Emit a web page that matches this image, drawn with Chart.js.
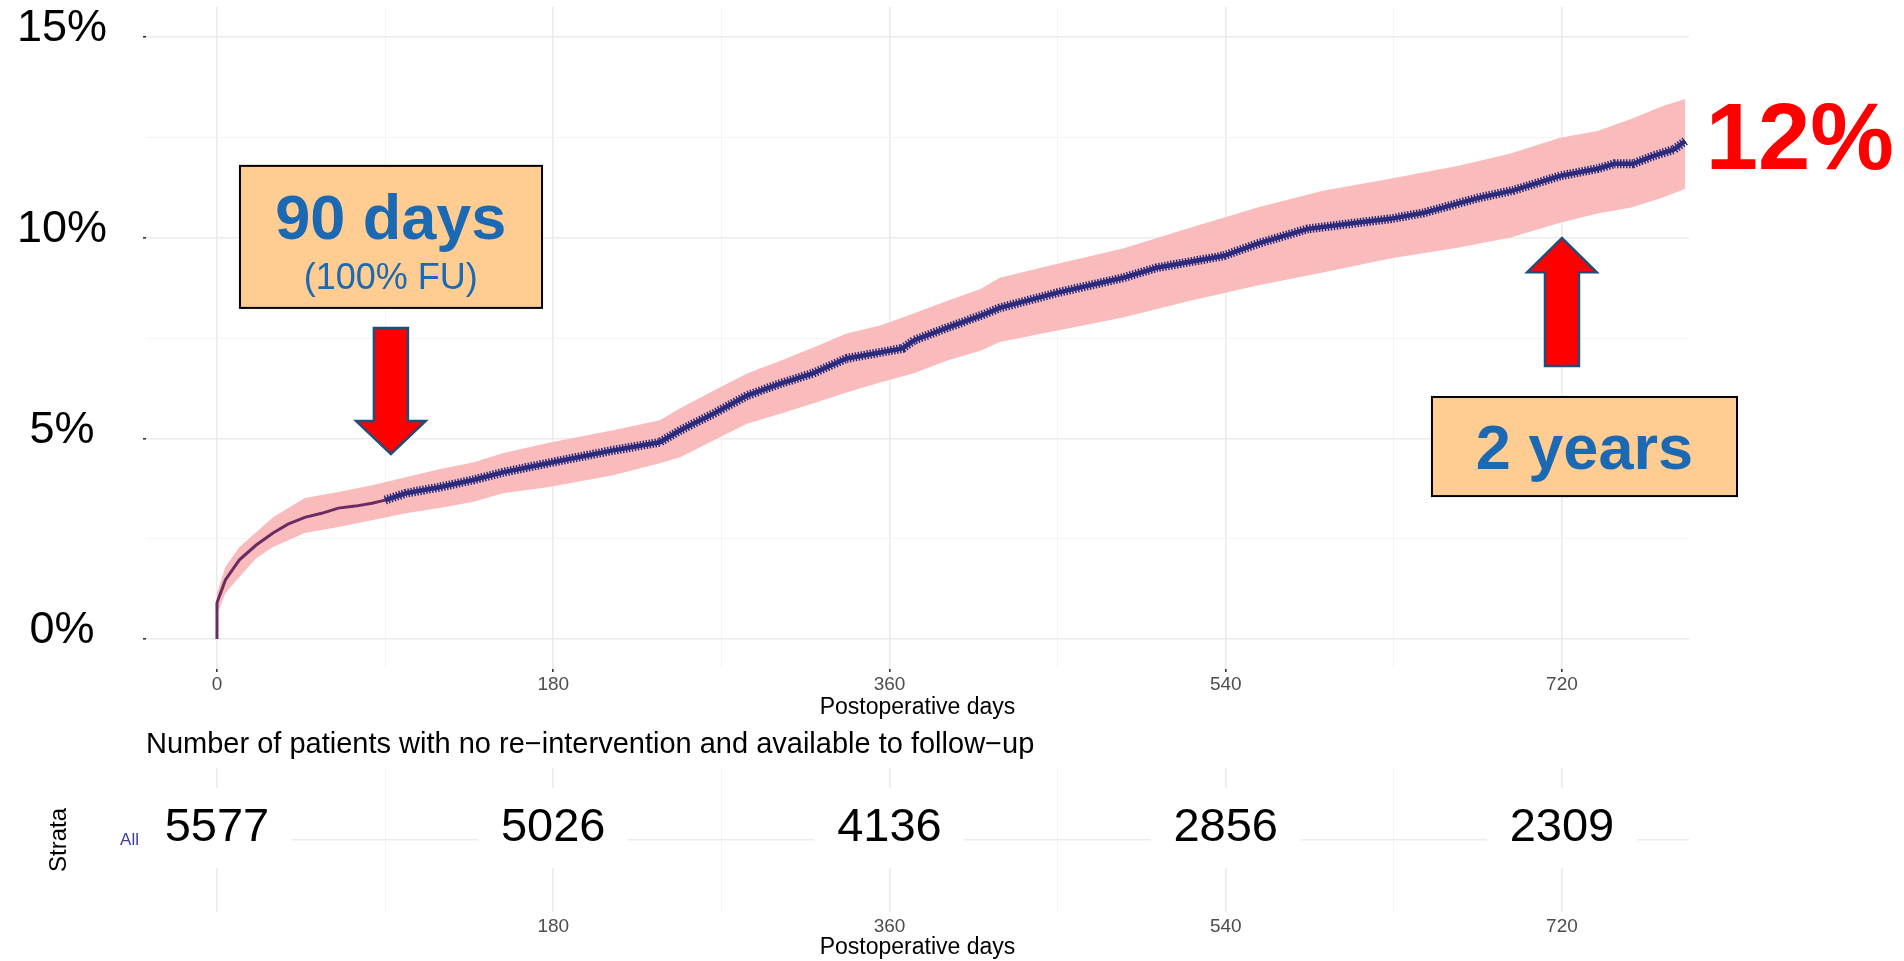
<!DOCTYPE html>
<html>
<head>
<meta charset="utf-8">
<script src="https://cdn.jsdelivr.net/npm/chart.js@4.4.0/dist/chart.umd.min.js"></script>
<style>
  body { margin: 0; background: #fff; }
  #wrap { position: relative; width: 1904px; height: 961px; overflow: hidden; background: #fff; }
  canvas { position: absolute; left: 0; }
  #curveChart { top: 0; }
  #riskChart { top: 725px; }
</style>
</head>
<body>
<div id="wrap">
  <canvas id="curveChart" width="1904" height="725"></canvas>
  <canvas id="riskChart" width="1904" height="236"></canvas>
</div>
<script>
const FONT = "'Liberation Sans', Arial, Helvetica, sans-serif";
Chart.defaults.font.family = FONT;

// cumulative re-intervention (%)
const estimateDays = [0, 0, 4.5, 12, 21, 30, 38, 47, 56, 65, 74, 83, 90, 101, 119, 137, 153, 177, 212, 237,
  248, 266, 284, 302, 319, 337, 355, 367, 373, 391, 409, 419, 450, 485, 503, 521, 539, 557, 584, 610,
  628, 646, 664, 676, 694, 719, 739, 748, 758, 769, 780, 786];
const estimatePct = [0, 0.9, 1.47, 1.97, 2.34, 2.64, 2.86, 3.03, 3.13, 3.26, 3.31, 3.38, 3.46, 3.63, 3.78, 3.96, 4.15, 4.38, 4.70, 4.90,
  5.20, 5.62, 6.07, 6.37, 6.62, 6.99, 7.14, 7.24, 7.44, 7.76, 8.06, 8.25, 8.63, 9.0, 9.25, 9.4, 9.55, 9.85, 10.22, 10.37,
  10.47, 10.62, 10.85, 11.0, 11.18, 11.54, 11.72, 11.84, 11.84, 12.04, 12.2, 12.41];

// confidence band
const bandDays = [0, 4.5, 12, 21, 30, 47, 65, 83, 101, 119, 137, 153, 177, 212, 237, 248, 266, 284, 302, 319,
  337, 355, 373, 391, 409, 419, 450, 485, 521, 557, 592, 628, 664, 692, 719, 739, 757, 774, 786];
const bandLower = [0.6, 1.14, 1.54, 2.01, 2.29, 2.64, 2.79, 2.96, 3.13, 3.26, 3.41, 3.63, 3.78, 4.08, 4.38, 4.53, 4.95, 5.37, 5.62, 5.87,
  6.14, 6.39, 6.62, 6.94, 7.19, 7.40, 7.69, 8.01, 8.43, 8.81, 9.13, 9.48, 9.75, 10.0, 10.37, 10.6, 10.75, 11.0, 11.22];
const bandUpper = [1.15, 1.79, 2.29, 2.66, 3.03, 3.51, 3.66, 3.83, 4.03, 4.23, 4.40, 4.63, 4.88, 5.20, 5.45, 5.75, 6.19, 6.62, 6.94, 7.26,
  7.61, 7.81, 8.11, 8.43, 8.73, 9.0, 9.35, 9.73, 10.25, 10.75, 11.17, 11.47, 11.79, 12.09, 12.49, 12.66, 12.96, 13.28, 13.46];

const xTicks = [0, 90, 180, 270, 360, 450, 540, 630, 720];
const yTicks = [0, 2.5, 5, 7.5, 10, 12.5, 15];

// number at risk table
const riskDays = [0, 180, 360, 540, 720];
const riskCounts = [5577, 5026, 4136, 2856, 2309];
const strataLabels = ["All"];

const X_MIN = -38, X_MAX = 788;
const CENSOR_FROM = 90;

const NAVY = "#2B2C7E";
const PURPLE = "#6B2C62";
const BAND = "#F9BBBC";
const GRID_MAJOR = "#EBEBEB";
const GRID_MINOR = "#F3F3F3";
const NOTE_BLUE = "#1C69B3";

const toPoints = (xs, ys) => xs.map((x, i) => ({ x, y: ys[i] }));
const isMajorX = (v) => v % 180 === 0;
const isMajorY = (v) => v % 5 === 0;

function gridFor(isMajor, ticks) {
  const major = (c) => c.tick && isMajor(c.tick.value);
  return {
    color: (c) => (major(c) ? GRID_MAJOR : GRID_MINOR),
    lineWidth: (c) => (major(c) ? 1.6 : 0.9),
    tickColor: (c) => (ticks && major(c) ? "#333333" : "rgba(0,0,0,0)"),
    tickLength: 3,
    drawTicks: ticks,
  };
}

// keep the plot area where the axes say, no room kept for overflowing labels
function fixSize(prop, size) {
  return (s) => {
    s[prop] = size;
    s.paddingTop = 0;
    s.paddingBottom = 0;
    s.paddingLeft = 0;
    s.paddingRight = 0;
  };
}

// callouts, in data units
const boxNotes = [
  {
    from: [12.3, 8.25], to: [174, 11.79],
    lines: [
      { text: "90 days", x: 93, y: 9.97, size: 63, bold: true },
      { text: "(100% FU)", x: 93, y: 8.72, size: 36, bold: false },
    ],
  },
  {
    from: [650.4, 3.56], to: [813.7, 6.03],
    lines: [{ text: "2 years", x: 732, y: 4.23, size: 63, bold: true }],
  },
];
const arrowNotes = [
  { x: 93.1, tail: 7.75, neck: 5.43, tip: 4.61 },
  { x: 720, tail: 6.8, neck: 9.14, tip: 9.99 },
];
const bigNote = { text: "12%", x: 797, y: 11.71, size: 94 };

const calloutPlugin = {
  id: "callouts",
  afterDraw(chart) {
    const { ctx, scales: { x, y } } = chart;
    const px = (v) => x.getPixelForValue(v);
    const py = (v) => y.getPixelForValue(v);
    ctx.save();

    for (const a of arrowNotes) {
      const cx = px(a.x);
      const sw = px(a.x + 9.1) - cx;
      const hw = px(a.x + 18.6) - cx;
      ctx.beginPath();
      ctx.moveTo(cx - sw, py(a.tail));
      ctx.lineTo(cx + sw, py(a.tail));
      ctx.lineTo(cx + sw, py(a.neck));
      ctx.lineTo(cx + hw, py(a.neck));
      ctx.lineTo(cx, py(a.tip));
      ctx.lineTo(cx - hw, py(a.neck));
      ctx.lineTo(cx - sw, py(a.neck));
      ctx.closePath();
      ctx.fillStyle = "#FF0000";
      ctx.fill();
      ctx.lineWidth = 2.5;
      ctx.strokeStyle = "#1F4E79";
      ctx.stroke();
    }

    for (const b of boxNotes) {
      const left = px(b.from[0]), right = px(b.to[0]);
      const top = py(b.to[1]), bottom = py(b.from[1]);
      ctx.fillStyle = "#FFCC92";
      ctx.fillRect(left, top, right - left, bottom - top);
      ctx.lineWidth = 2;
      ctx.strokeStyle = "#000";
      ctx.strokeRect(left, top, right - left, bottom - top);
      ctx.fillStyle = NOTE_BLUE;
      ctx.textAlign = "center";
      ctx.textBaseline = "alphabetic";
      for (const l of b.lines) {
        ctx.font = `${l.bold ? "bold " : ""}${l.size}px ${FONT}`;
        ctx.fillText(l.text, px(l.x), py(l.y));
      }
    }

    ctx.fillStyle = "#FF0000";
    ctx.font = `bold ${bigNote.size}px ${FONT}`;
    ctx.textAlign = "left";
    ctx.textBaseline = "alphabetic";
    ctx.fillText(bigNote.text, px(bigNote.x), py(bigNote.y));
    ctx.restore();
  },
};

const curveChart = new Chart(document.getElementById("curveChart"), {
  type: "line",
  data: {
    datasets: [
      {
        label: "upper",
        data: toPoints(bandDays, bandUpper),
        fill: "+1",
        backgroundColor: BAND,
        borderWidth: 0,
        pointRadius: 0,
        order: 3,
      },
      {
        label: "lower",
        data: toPoints(bandDays, bandLower),
        fill: false,
        borderWidth: 0,
        pointRadius: 0,
        order: 3,
      },
      {
        label: "All",
        data: toPoints(estimateDays, estimatePct),
        fill: false,
        borderColor: NAVY,
        borderWidth: 3,
        pointRadius: 0,
        order: 2,
        segment: {
          borderColor: (c) => (c.p0.parsed.x < CENSOR_FROM ? PURPLE : NAVY),
          borderWidth: (c) => (c.p0.parsed.x < CENSOR_FROM ? 3 : 4.5),
        },
      },
      {
        // censor marks
        label: "censored",
        data: toPoints(estimateDays, estimatePct),
        fill: false,
        borderColor: NAVY,
        borderWidth: 9,
        borderDash: [1.5, 1.5],
        pointRadius: 0,
        order: 1,
        segment: {
          borderColor: (c) => (c.p0.parsed.x < CENSOR_FROM ? "rgba(0,0,0,0)" : NAVY),
        },
      },
    ],
  },
  options: {
    responsive: false,
    animation: false,
    layout: { padding: { top: 7, right: 215, left: 0, bottom: 0 } },
    plugins: { legend: { display: false }, tooltip: { enabled: false } },
    scales: {
      x: {
        type: "linear",
        min: X_MIN,
        max: X_MAX,
        afterBuildTicks: (s) => { s.ticks = xTicks.map((value) => ({ value })); },
        afterFit: fixSize("height", 56),
        border: { display: false },
        grid: gridFor(isMajorX, true),
        ticks: {
          color: "#4D4D4D",
          font: { size: 19 },
          padding: 1,
          maxRotation: 0,
          autoSkip: false,
          callback: (v) => (isMajorX(v) ? String(v) : ""),
        },
        title: {
          display: true,
          text: "Postoperative days",
          color: "#000",
          font: { size: 23 },
          padding: { top: 0, bottom: 4 },
        },
      },
      y: {
        type: "linear",
        min: -0.75,
        max: 15.75,
        afterBuildTicks: (s) => { s.ticks = yTicks.map((value) => ({ value })); },
        afterFit: fixSize("width", 146),
        border: { display: false },
        grid: gridFor(isMajorY, true),
        ticks: {
          color: "#000",
          font: { size: 45 },
          padding: 36,
          crossAlign: "center",
          labelOffset: -8,
          autoSkip: false,
          callback: (v) => (isMajorY(v) ? v + "%" : ""),
        },
      },
    },
  },
  plugins: [calloutPlugin],
});

const riskLabelPlugin = {
  id: "riskLabels",
  afterDatasetsDraw(chart) {
    const { ctx, scales: { x, y } } = chart;
    ctx.save();
    ctx.font = `47px ${FONT}`;
    ctx.textAlign = "center";
    ctx.textBaseline = "middle";
    riskCounts.forEach((n, i) => {
      const cx = x.getPixelForValue(riskDays[i]);
      const cy = y.getPixelForValue(0) - 12;
      ctx.fillStyle = "#fff";
      ctx.fillRect(cx - 75, cy - 40, 150, 80);
      ctx.fillStyle = "#000";
      ctx.fillText(String(n), cx, cy);
    });
    ctx.restore();
  },
};

const riskChart = new Chart(document.getElementById("riskChart"), {
  type: "line",
  data: {
    datasets: [
      {
        label: "All",
        data: toPoints(riskDays, riskDays.map(() => 0)),
        showLine: false,
        pointRadius: 0,
      },
    ],
  },
  options: {
    responsive: false,
    animation: false,
    layout: { padding: { top: 0, right: 215, left: 0, bottom: 0 } },
    plugins: {
      legend: { display: false },
      tooltip: { enabled: false },
      title: {
        display: true,
        text: "Number of patients with no re\u2212intervention and available to follow\u2212up",
        align: "start",
        fullSize: false,
        color: "#000",
        font: { size: 29, weight: "normal" },
        padding: { top: 2.6, bottom: 5.6 },
      },
    },
    scales: {
      x: {
        type: "linear",
        min: X_MIN,
        max: X_MAX,
        afterBuildTicks: (s) => { s.ticks = xTicks.map((value) => ({ value })); },
        afterFit: fixSize("height", 49),
        border: { display: false },
        grid: gridFor(isMajorX, false),
        ticks: {
          color: "#4D4D4D",
          font: { size: 19 },
          padding: 3,
          maxRotation: 0,
          autoSkip: false,
          callback: (v) => (isMajorX(v) && v !== 0 ? String(v) : ""),
        },
        title: {
          display: true,
          text: "Postoperative days",
          color: "#000",
          font: { size: 23 },
          padding: { top: 0, bottom: 0 },
        },
      },
      y: {
        type: "linear",
        min: -1,
        max: 1,
        afterBuildTicks: (s) => { s.ticks = strataLabels.map((_, i) => ({ value: i })); },
        afterFit: fixSize("width", 146),
        border: { display: false },
        grid: { color: GRID_MAJOR, lineWidth: 1.6, drawTicks: false },
        ticks: {
          color: "#3D3D99",
          font: { size: 17 },
          padding: 7,
          autoSkip: false,
          callback: (v) => strataLabels[v] ?? "",
        },
        title: {
          display: true,
          text: "Strata",
          color: "#000",
          font: { size: 24 },
          padding: { top: 44.6, bottom: 0 },
        },
      },
    },
  },
  plugins: [riskLabelPlugin],
});
</script>
</body>
</html>
